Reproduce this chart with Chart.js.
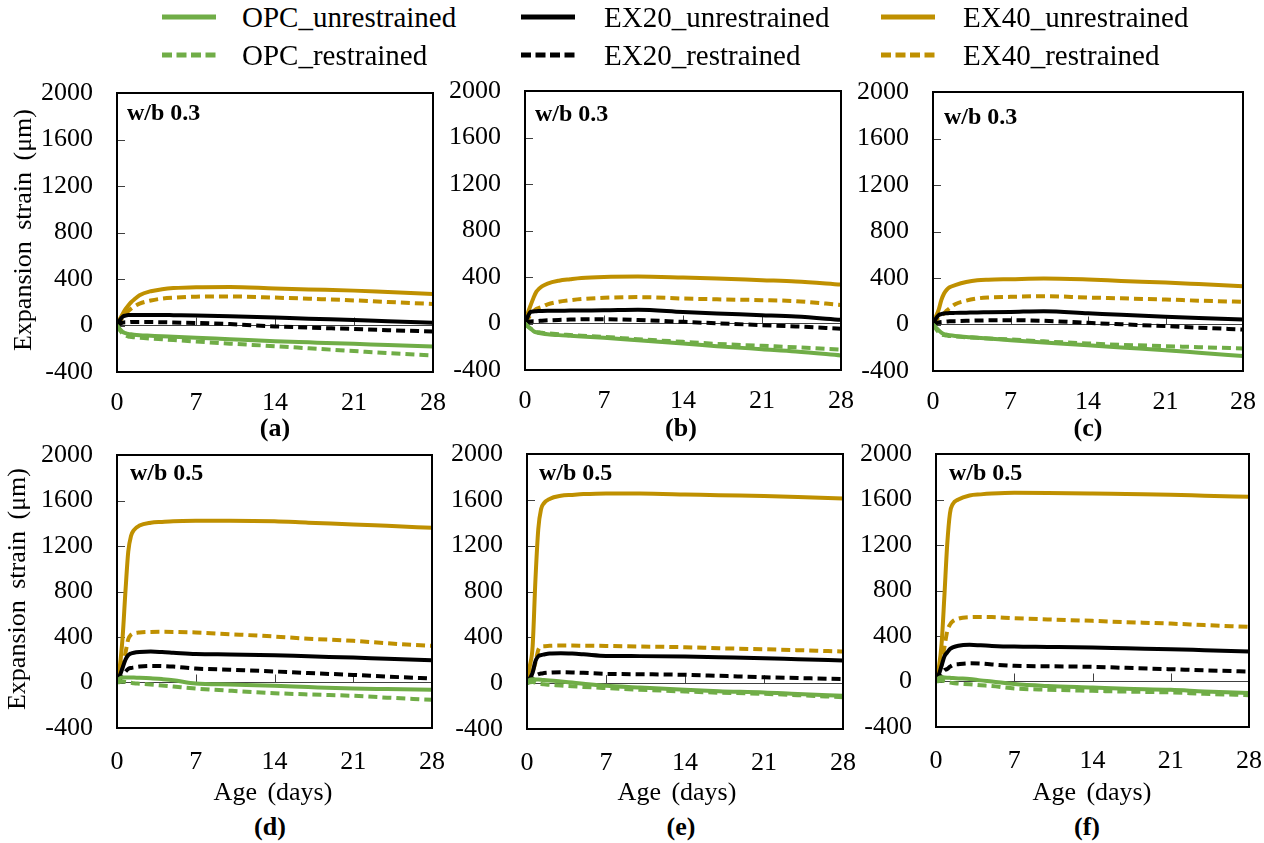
<!DOCTYPE html>
<html>
<head>
<meta charset="utf-8">
<script src="https://cdn.jsdelivr.net/npm/chart.js@4.4.1/dist/chart.umd.min.js"></script>
<style>
  html, body { margin:0; padding:0; background:#fff; }
  body { width:1264px; height:843px; position:relative; overflow:hidden; font-family:"Liberation Serif","Times New Roman",serif; color:#000; }
  canvas { position:absolute; }
  .t { position:absolute; white-space:nowrap; line-height:30px; height:30px; }
  .leg { position:absolute; font-size:29px; line-height:34px; height:34px; white-space:nowrap; }
  .wb { font-weight:bold; font-size:24px; }
  .sub { font-weight:bold; font-size:26px; transform:translateX(-50%); }
  .age { font-size:26px; transform:translateX(-50%); word-spacing:4px; }
  .ytitle { font-size:26px; transform:translate(-50%,-50%) rotate(-90deg); word-spacing:5px; }
</style>
</head>
<body>
<script>
// ---------------- DATA ----------------
const days = [0, 0.25, 0.5, 0.75, 1, 1.25, 1.5, 2, 3, 4, 5, 7, 10, 14, 17, 21, 24, 28];
const seriesNames = ['OPC_unrestrained','OPC_restrained','EX20_unrestrained','EX20_restrained','EX40_unrestrained','EX40_restrained'];
const xTickLabels = ['0','7','14','21','28'];
const yTickLabels = ['-400','0','400','800','1200','1600','2000'];
const panelTitles = ['w/b 0.3','w/b 0.3','w/b 0.3','w/b 0.5','w/b 0.5','w/b 0.5'];
const panelLetters = ['(a)','(b)','(c)','(d)','(e)','(f)'];

// panel (a)
const a_OPC_u  = [0, -30, -55, -65, -72, -76, -79, -83, -88, -93, -97, -106, -118, -135, -145, -158, -167, -180];
const a_OPC_r  = [0, -40, -70, -85, -95, -98, -101, -106, -113, -119, -125, -138, -156, -178, -196, -220, -238, -258];
const a_EX20_u = [0, 45, 75, 85, 90, 90, 90, 90, 90, 90, 89, 87, 80, 68, 58, 48, 37, 23];
const a_EX20_r = [0, 15, 25, 28, 28, 30, 30, 30, 30, 28, 26, 22, 12, -8, -18, -30, -40, -52];
const a_EX40_u = [0, 55, 100, 140, 172, 200, 222, 260, 295, 312, 322, 330, 332, 318, 310, 300, 288, 272];
const a_EX40_r = [0, 35, 70, 100, 125, 145, 162, 188, 215, 232, 240, 248, 250, 240, 230, 216, 202, 186];
// panel (b)
const b_OPC_u  = [0, -25, -43, -65, -77, -82, -86, -92, -100, -106, -112, -123, -145, -172, -195, -221, -240, -275];
const b_OPC_r  = [0, -25, -45, -62, -72, -76, -80, -85, -93, -99, -105, -115, -135, -158, -175, -192, -205, -225];
const b_EX20_u = [0, 60, 100, 104, 106, 107, 108, 109, 110, 111, 112, 113, 118, 98, 86, 72, 60, 32];
const b_EX20_r = [0, 10, 18, 20, 20, 22, 24, 27, 31, 34, 36, 37, 30, 14, 2, -14, -25, -45];
const b_EX40_u = [0, 90, 157, 220, 272, 300, 320, 344, 368, 381, 392, 401, 404, 396, 388, 373, 362, 335];
const b_EX40_r = [0, 40, 75, 105, 125, 135, 143, 165, 187, 200, 210, 221, 227, 215, 208, 201, 192, 160];
// panel (c)
const c_OPC_u  = [0, -25, -49, -70, -83, -88, -92, -98, -107, -113, -120, -135, -155, -178, -197, -221, -243, -272];
const c_OPC_r  = [0, -35, -65, -82, -92, -95, -98, -103, -110, -115, -120, -129, -145, -163, -175, -186, -195, -206];
const c_EX20_u = [0, 50, 80, 90, 95, 97, 99, 100, 102, 104, 105, 108, 115, 97, 83, 66, 55, 43];
const c_EX20_r = [0, 10, 18, 22, 23, 25, 27, 29, 32, 34, 36, 37, 32, 14, 2, -14, -27, -43];
const c_EX40_u = [0, 65, 123, 210, 267, 300, 320, 338, 365, 381, 386, 390, 396, 387, 375, 361, 348, 330];
const c_EX40_r = [0, 35, 60, 80, 95, 120, 140, 175, 205, 224, 232, 238, 244, 232, 225, 215, 205, 195];
// panel (d)
const d_OPC_u  = [0, 35, 44, 45, 45, 44, 43, 42, 38, 30, 20, -9, -18, -29, -40, -53, -58, -64];
const d_OPC_r  = [0, 5, 8, 5, 0, -3, -6, -10, -18, -26, -35, -53, -72, -94, -105, -117, -133, -152];
const d_EX20_u = [0, 60, 130, 200, 240, 255, 262, 268, 272, 268, 262, 250, 247, 240, 230, 219, 208, 196];
const d_EX20_r = [0, 30, 60, 95, 120, 128, 132, 140, 146, 145, 140, 123, 112, 97, 83, 67, 52, 35];
const d_EX40_u = [0, 140, 400, 800, 1150, 1290, 1340, 1380, 1405, 1412, 1418, 1422, 1423, 1418, 1405, 1390, 1377, 1360];
const d_EX40_r = [0, 60, 150, 260, 380, 420, 432, 440, 445, 446, 445, 440, 425, 404, 385, 366, 345, 322];
// panel (e)
const e_OPC_u  = [0, 30, 35, 33, 31, 29, 27, 24, 15, 5, -5, -23, -38, -58, -70, -81, -95, -110];
const e_OPC_r  = [0, 8, 10, 5, -5, -8, -10, -14, -20, -27, -33, -43, -57, -73, -83, -93, -105, -122];
const e_EX20_u = [0, 40, 93, 192, 235, 245, 250, 258, 261, 258, 252, 238, 236, 232, 226, 218, 209, 198];
const e_EX20_r = [0, 20, 45, 65, 78, 85, 88, 92, 96, 94, 90, 81, 78, 73, 64, 52, 45, 35];
const e_EX40_u = [0, 148, 323, 907, 1345, 1520, 1570, 1608, 1635, 1643, 1650, 1656, 1655, 1647, 1640, 1633, 1625, 1612];
const e_EX40_r = [0, 40, 100, 180, 290, 318, 322, 326, 328, 328, 327, 325, 320, 314, 305, 296, 288, 276];
// panel (f)
const f_OPC_u  = [0, 30, 38, 36, 34, 32, 30, 27, 23, 10, 0, -23, -40, -53, -63, -73, -87, -102];
const f_OPC_r  = [0, 5, 8, 3, -5, -10, -14, -18, -25, -33, -40, -61, -72, -82, -89, -96, -108, -120];
const f_EX20_u = [0, 60, 140, 220, 255, 285, 300, 315, 322, 318, 313, 307, 304, 299, 292, 284, 275, 263];
const f_EX20_r = [0, 30, 70, 100, 110, 130, 145, 152, 160, 158, 150, 138, 134, 129, 120, 108, 98, 88];
const f_EX40_u = [0, 120, 330, 750, 1200, 1480, 1560, 1600, 1635, 1645, 1652, 1659, 1658, 1653, 1648, 1642, 1634, 1624];
const f_EX40_r = [0, 60, 150, 300, 440, 500, 530, 553, 566, 568, 566, 556, 546, 533, 522, 509, 496, 480];

const panelSeries = [
  [a_OPC_u, a_OPC_r, a_EX20_u, a_EX20_r, a_EX40_u, a_EX40_r],
  [b_OPC_u, b_OPC_r, b_EX20_u, b_EX20_r, b_EX40_u, b_EX40_r],
  [c_OPC_u, c_OPC_r, c_EX20_u, c_EX20_r, c_EX40_u, c_EX40_r],
  [d_OPC_u, d_OPC_r, d_EX20_u, d_EX20_r, d_EX40_u, d_EX40_r],
  [e_OPC_u, e_OPC_r, e_EX20_u, e_EX20_r, e_EX40_u, e_EX40_r],
  [f_OPC_u, f_OPC_r, f_EX20_u, f_EX20_r, f_EX40_u, f_EX40_r]
];

// ---------------- STYLE / LAYOUT ----------------
const GREEN = '#70AD47', BLACK = '#000000', GOLD = '#BF9000';
const seriesColors = [GREEN, GREEN, BLACK, BLACK, GOLD, GOLD];
const seriesDashed = [false, true, false, true, false, true];

// plot-area boxes: left, top, width, height
const boxes = [
  {l:117, t:93,  w:316, h:279, tp:16, wbx:10, wby:19, subx:275, suby:428},
  {l:525, t:91,  w:316, h:279, tp:16, wbx:10, wby:22, subx:681, suby:428},
  {l:933, t:92,  w:310, h:279, tp:16, wbx:11, wby:24, subx:1088, suby:428},
  {l:117, t:455, w:315, h:273, tp:19, wbx:13, wby:17, subx:270, suby:827, agex:273},
  {l:527, t:454, w:316, h:275, tp:19, wbx:12, wby:18, subx:681, suby:827, agex:677},
  {l:936, t:454, w:313, h:273, tp:19, wbx:13, wby:18, subx:1087, suby:827, agex:1092}
];
const LEFTW = 100, TOPPAD = 44, RIGHTPAD = 38, BOTTOMH = 50;
const tickFont = {family:'"Liberation Serif","Times New Roman",serif', size:26};

const framePlugin = {
  id: 'frame',
  beforeDatasetsDraw(chart) {
    const {ctx, chartArea:a, scales:{x, y}} = chart;
    ctx.save();
    ctx.strokeStyle = '#404040';
    ctx.lineWidth = 1;
    const y0 = y.getPixelForValue(0);
    ctx.beginPath();
    x.ticks.forEach(t => {
      if (t.value > x.min && t.value < x.max) {
        const px = Math.round(x.getPixelForValue(t.value)) + 0.5;
        ctx.moveTo(px, y0); ctx.lineTo(px, y0 - 8);
      }
    });
    y.ticks.forEach(t => {
      const py = Math.round(y.getPixelForValue(t.value)) + 0.5;
      ctx.moveTo(a.left, py); ctx.lineTo(a.left + 8, py);
    });
    ctx.stroke();
    ctx.restore();
  },
  afterDatasetsDraw(chart) {
    const {ctx, chartArea:a} = chart;
    ctx.save();
    ctx.strokeStyle = '#000';
    ctx.lineWidth = 2;
    ctx.strokeRect(a.left, a.top, a.right - a.left, a.bottom - a.top);
    ctx.restore();
  }
};

function addText(cls, text, left, top, extraStyle) {
  const d = document.createElement('div');
  d.className = 't ' + cls;
  d.textContent = text;
  d.style.left = left + 'px';
  d.style.top = top + 'px';
  if (extraStyle) Object.assign(d.style, extraStyle);
  document.body.appendChild(d);
  return d;
}

boxes.forEach((b, i) => {
  const cv = document.createElement('canvas');
  const W = b.w + LEFTW + RIGHTPAD, H = b.h + TOPPAD + BOTTOMH;
  cv.width = W; cv.height = H;
  cv.style.width = W + 'px'; cv.style.height = H + 'px';
  cv.style.left = (b.l - LEFTW) + 'px';
  cv.style.top = (b.t - TOPPAD) + 'px';
  document.body.appendChild(cv);

  const datasets = panelSeries[i].map((vals, k) => ({
    label: seriesNames[k],
    data: days.map((d, j) => ({x: d, y: vals[j]})),
    borderColor: seriesColors[k],
    borderWidth: 4,
    borderDash: seriesDashed[k] ? [9, 5] : [],
    pointRadius: 0,
    fill: false,
    cubicInterpolationMode: 'monotone'
  }));

  new Chart(cv, {
    type: 'line',
    data: {datasets},
    options: {
      responsive: false,
      animation: false,
      devicePixelRatio: 1,
      layout: {padding: {top: TOPPAD, right: RIGHTPAD, left: 0, bottom: 0}},
      plugins: {legend: {display: false}, tooltip: {enabled: false}},
      scales: {
        x: {
          type: 'linear', min: 0, max: 28,
          ticks: {stepSize: 7, color: '#000', font: tickFont, padding: b.tp, maxRotation: 0,
                  callback: (v) => { const idx = [0,7,14,21,28].indexOf(v); return idx >= 0 ? xTickLabels[idx] : ''; }},
          grid: {display: false, drawTicks: false},
          border: {display: false},
          afterFit: (s) => { s.height = BOTTOMH; }
        },
        y: {
          type: 'linear', min: -400, max: 2000,
          ticks: {stepSize: 400, color: '#000', font: tickFont, padding: 24,
                  callback: (v) => { const idx = Math.round((v + 400) / 400); return yTickLabels[idx]; }},
          grid: {drawTicks: false, lineWidth: 1,
                 color: (ctx) => (ctx.tick && ctx.tick.value === 0) ? '#404040' : 'rgba(0,0,0,0)'},
          border: {display: false},
          afterFit: (s) => { s.width = LEFTW; }
        }
      }
    },
    plugins: [framePlugin]
  });

  addText('wb', panelTitles[i], b.l + b.wbx, b.t + b.wby - 15);
  addText('sub', panelLetters[i], b.subx, b.suby - 15);
  if (i >= 3) addText('age', 'Age (days)', b.agex, 792 - 15);
});

// y axis titles
[{x:23, y:245}, {x:17, y:604}].forEach(p => {
  addText('ytitle', 'Expansion strain (μm)', p.x, p.y - 15, {});
});

// legend
const legendItems = [
  {name: seriesNames[0], color: GREEN, dashed: false, lx: 162, tx: 242, cy: 17},
  {name: seriesNames[2], color: BLACK, dashed: false, lx: 521, tx: 604, cy: 17},
  {name: seriesNames[4], color: GOLD,  dashed: false, lx: 881, tx: 963, cy: 17},
  {name: seriesNames[1], color: GREEN, dashed: true,  lx: 162, tx: 242, cy: 55},
  {name: seriesNames[3], color: BLACK, dashed: true,  lx: 521, tx: 604, cy: 55},
  {name: seriesNames[5], color: GOLD,  dashed: true,  lx: 881, tx: 963, cy: 55}
];
legendItems.forEach(it => {
  const svgNS = 'http://www.w3.org/2000/svg';
  const svg = document.createElementNS(svgNS, 'svg');
  svg.setAttribute('width', 56); svg.setAttribute('height', 10);
  svg.style.position = 'absolute';
  svg.style.left = it.lx + 'px';
  svg.style.top = (it.cy - 5) + 'px';
  const ln = document.createElementNS(svgNS, 'line');
  ln.setAttribute('x1', 0); ln.setAttribute('y1', 5);
  ln.setAttribute('x2', 54); ln.setAttribute('y2', 5);
  ln.setAttribute('stroke', it.color);
  ln.setAttribute('stroke-width', 5);
  if (it.dashed) ln.setAttribute('stroke-dasharray', '10 4.5');
  svg.appendChild(ln);
  document.body.appendChild(svg);
  const d = document.createElement('div');
  d.className = 'leg';
  d.textContent = it.name;
  d.style.left = it.tx + 'px';
  d.style.top = (it.cy - 17) + 'px';
  document.body.appendChild(d);
});
</script>
</body>
</html>
